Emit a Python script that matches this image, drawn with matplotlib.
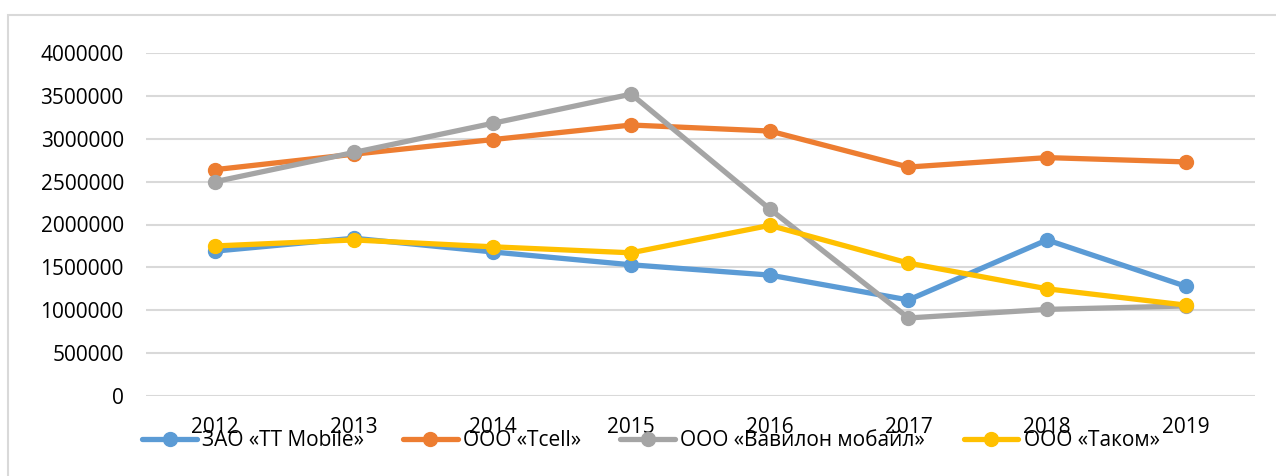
import matplotlib.pyplot as plt
from matplotlib.patches import Rectangle
from matplotlib.ticker import StrMethodFormatter

plt.rcParams['font.family'] = ['Open Sans', 'DejaVu Sans']

years = ['2012', '2013', '2014', '2015', '2016', '2017', '2018', '2019']
tt_mobile = [1690000, 1840000, 1680000, 1530000, 1410000, 1120000, 1820000, 1280000]
tcell = [2640000, 2820000, 2990000, 3160000, 3090000, 2670000, 2780000, 2730000]
babilon = [2500000, 2840000, 3180000, 3520000, 2180000, 910000, 1010000, 1050000]
tacom = [1750000, 1820000, 1740000, 1670000, 1990000, 1550000, 1250000, 1060000]
names = ['ЗАО «TT Mobile»', 'ООО «Tcell»', 'ООО «Вавилон мобайл»', 'ООО «Таком»']
colors = ['#5B9BD5', '#ED7D31', '#A5A5A5', '#FFC000']

fig = plt.figure(figsize=(12.76, 4.76), dpi=100)
ax = fig.add_axes([146/1276, 1-396/476, (1255-146)/1276, (396-53)/476])

x = list(range(len(years)))
for vals, name, c in zip([tt_mobile, tcell, babilon, tacom], names, colors):
    ax.plot(x, vals, color=c, lw=3.8, marker='o', ms=10, label=name,
            solid_capstyle='round', solid_joinstyle='round')

ax.set_xlim(-0.5, len(years) - 0.5)
ax.set_ylim(0, 4000000)
ax.set_yticks(range(0, 4000001, 500000))
ax.yaxis.set_major_formatter(StrMethodFormatter('{x:.0f}'))
ax.set_xticks(x)
ax.set_xticklabels(years)
ax.grid(axis='y', color='#D9D9D9', lw=1.5)
ax.set_axisbelow(True)
for s in ax.spines.values():
    s.set_visible(False)
ax.tick_params(length=0, labelsize=15, colors='#000000')
ax.tick_params(axis='x', pad=15)
ax.tick_params(axis='y', pad=16)

fig.legend(loc='center', bbox_to_anchor=(651/1276, 1-441/476), ncol=4,
           frameon=False, fontsize=15, handlelength=2.6, handletextpad=0.25,
           columnspacing=1.9, borderpad=0)

fig.patches.append(Rectangle((8/1276, -0.1), 1.2, 1.1 - 15/476, transform=fig.transFigure,
                             fill=False, edgecolor='#D9D9D9', lw=1.5))

fig.savefig('out.png', dpi=100)
